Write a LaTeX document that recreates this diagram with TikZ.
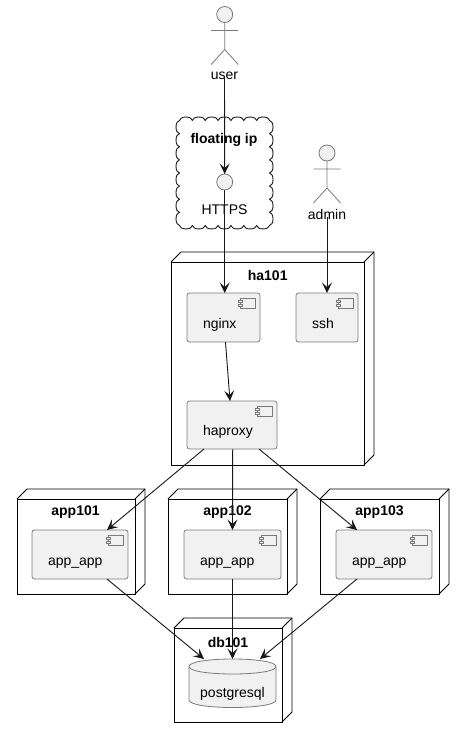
\documentclass[tikz,border=0pt]{standalone}
\usepackage{fontspec}
\setmainfont{Liberation Sans}
\usetikzlibrary{arrows.meta}
\definecolor{edgec}{HTML}{181818}
\definecolor{fillc}{HTML}{F1F1F1}
\definecolor{softc}{HTML}{7A7A7A}
\newcommand{\low}[2]{\smash{\raisebox{-#1pt}{#2}}}
\tikzset{
  every node/.style={font=\fontsize{14}{16}\selectfont, outer sep=0pt, inner sep=0pt},
  soft/.style={draw=softc, line width=0.8pt},
  deploy/.style={draw=black, line width=0.9pt, fill=white, rectangle},
  comp/.style={soft, fill=fillc, rectangle, rounded corners=2.5pt, align=left},
  ball/.style={soft, fill=fillc, circle, minimum size=16pt},
  title/.style={font=\fontsize{14}{16}\selectfont\bfseries},
  edge/.style={draw=edgec, line width=0.9pt, -{Stealth[length=10.5pt,width=10pt,inset=4.5pt]}},
  thin3d/.style={draw=black, line width=0.9pt},
}
\newcommand{\threed}[1]{%
  \draw[thin3d] (#1.north west) -- ++(10,-10) -- ([shift={(10,-10)}]#1.north east) -- ([shift={(10,-10)}]#1.south east) -- (#1.south east);
  \draw[thin3d] (#1.north east) -- ++(10,-10);
}
\newcommand{\icon}[1]{%
  \draw[soft, line width=0.7pt, fill=fillc] ([shift={(-20,5)}]#1.north east) rectangle ([shift={(-5,15)}]#1.north east);
  \draw[soft, line width=0.7pt, fill=fillc] ([shift={(-22,7)}]#1.north east) rectangle ([shift={(-18,9.5)}]#1.north east);
  \draw[soft, line width=0.7pt, fill=fillc] ([shift={(-22,11)}]#1.north east) rectangle ([shift={(-18,13.5)}]#1.north east);
}
\newcommand{\stick}[1]{%
  \draw[soft] (#1.south) -- ++(0,27) ++(-13.5,-19) -- ++(27,0) ++(-13.5,19) -- ++(-13.5,15) ++(13.5,-15) -- ++(13.5,15);
}
\begin{document}
\begin{tikzpicture}[x=1pt,y=-1pt]
\useasboundingbox (0,0) rectangle (464,738);
\fill[white] (0,0) rectangle (464,738);

% cloud
\draw[edgec, line width=0.9pt, fill=white, line join=round] (179.5,120.5)
  \foreach \i in {1,...,7}{ arc[start angle=180,end angle=0,x radius=6.43pt,y radius=3.5pt] }
  \foreach \i in {1,...,8}{ arc[start angle=90,end angle=-90,x radius=3.5pt,y radius=6.56pt] }
  \foreach \i in {1,...,7}{ arc[start angle=0,end angle=-180,x radius=6.43pt,y radius=3.5pt] }
  \foreach \i in {1,...,8}{ arc[start angle=270,end angle=90,x radius=3.5pt,y radius=6.56pt] }
  -- cycle;
\node[title] (cloudtitle) at (224,140) {floating ip};
\node[ball] (https) at (224.7,182) {};
\node (httpslabel) at (224.5,210) {HTTPS};

% actors
\node[ball] (userhead) at (224.7,14.5) {};
\stick{userhead}
\node (user) at (224.5,76) {user};
\node[ball] (adminhead) at (327,153) {};
\stick{adminhead}
\node (admin) at (327,214) {admin};

% deployment nodes
\node[deploy, minimum width=193pt, minimum height=203pt] (ha) at (267.5,363.5) {};
\threed{ha}
\node[title] (hatitle) at (267.7,275) {ha101};
\node[deploy, minimum width=118pt, minimum height=95pt] (app1) at (76,546.5) {};
\threed{app1}
\node[title] (app1title) at (75.5,512.5) {app101};
\node[deploy, minimum width=119pt, minimum height=95pt] (app2) at (227.5,546.5) {};
\threed{app2}
\node[title] (app2title) at (227.5,512.5) {app102};
\node[deploy, minimum width=119pt, minimum height=95pt] (app3) at (379.5,546.5) {};
\threed{app3}
\node[title] (app3title) at (379.5,512.5) {app103};
\node[deploy, minimum width=108pt, minimum height=94pt] (db) at (228,675) {};
\threed{db}
\node[title] (dbtitle) at (228,642) {db101};

% components
\node[comp, minimum height=49pt, text width=41pt, inner xsep=16pt] (nginx) at (223.5,317.5) {\low{10.5}{nginx}};
\icon{nginx}
\node[comp, minimum height=49pt, text width=30pt, inner xsep=16pt] (ssh) at (327,317.5) {\low{10.5}{ssh}};
\icon{ssh}
\node[comp, minimum height=48pt, text width=58pt, inner xsep=16pt] (haproxy) at (232,425) {\low{10.5}{haproxy}};
\icon{haproxy}
\node[comp, minimum height=49pt, text width=64pt, inner xsep=16pt] (aa1) at (80,554.5) {\low{10.5}{app\_app}};
\icon{aa1}
\node[comp, minimum height=49pt, text width=65pt, inner xsep=16pt] (aa2) at (232.5,554.5) {\low{10.5}{app\_app}};
\icon{aa2}
\node[comp, minimum height=49pt, text width=64pt, inner xsep=16pt] (aa3) at (384,554.5) {\low{10.5}{app\_app}};
\icon{aa3}

% database
\draw[soft, fill=fillc] (189,666.5) .. controls (189,656.5) and (276,656.5) .. (276,666.5)
  -- (276,700) .. controls (276,710) and (189,710) .. (189,700) -- cycle;
\draw[soft] (189,666.5) .. controls (189,676.5) and (276,676.5) .. (276,666.5);
\node[minimum width=87pt, minimum height=48pt] (pg) at (232.5,683) {\low{14.5}{postgresql}};

% connectors
\draw[edge] ([yshift=2pt]user.south) -- (https.north);
\draw[edge] (https.south) -- (https.south |- nginx.north);
\draw[edge] ([yshift=2pt]admin.south) -- (admin.south |- ssh.north);
\draw[edge] ([xshift=2pt]nginx.south) -- ([xshift=-2pt]haproxy.north);
\draw[edge] ([xshift=-28pt]haproxy.south) -- ([xshift=27pt]aa1.north);
\draw[edge] ([xshift=0.7pt]haproxy.south) -- (aa2.north);
\draw[edge] ([xshift=27pt]haproxy.south) -- ([xshift=-27pt]aa3.north);
\draw[edge] ([xshift=27pt]aa1.south) -- ([xshift=-28.5pt]pg.north);
\draw[edge] (aa2.south) -- (pg.north);
\draw[edge] ([xshift=-27pt]aa3.south) -- ([xshift=27.5pt]pg.north);
\end{tikzpicture}
\end{document}
